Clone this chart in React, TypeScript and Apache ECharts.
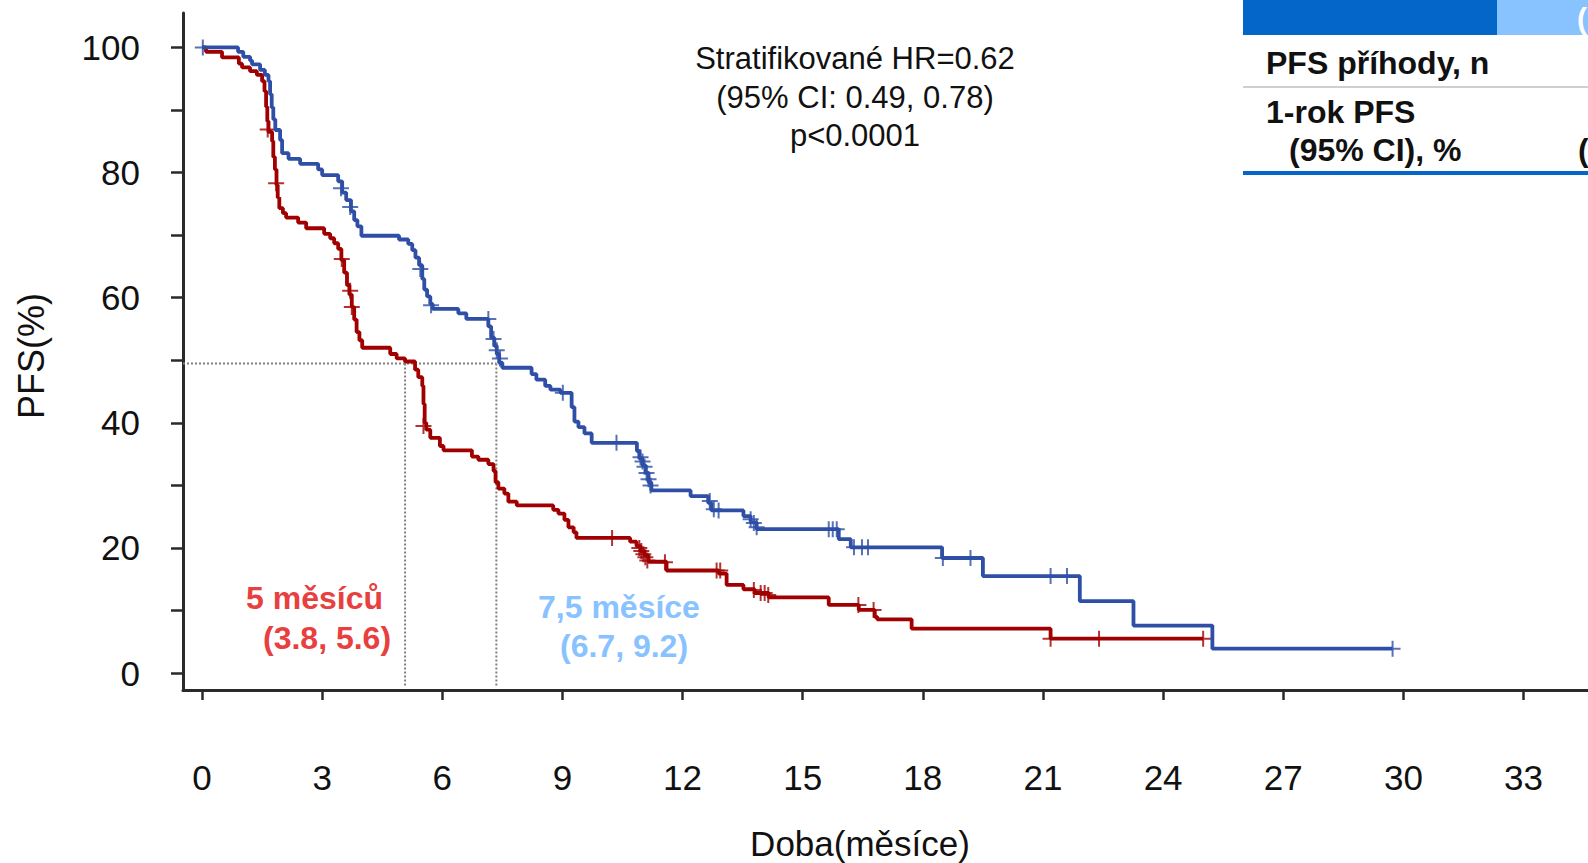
import React, { useEffect, useRef } from "react";
import * as echarts from "echarts";

// Axis ticks / labels
const xTickValues = [0, 3, 6, 9, 12, 15, 18, 21, 24, 27, 30, 33];
const yTickValues = [0, 10, 20, 30, 40, 50, 60, 70, 80, 90, 100];
const yLabelValues = [0, 20, 40, 60, 80, 100];

// Kaplan-Meier steps: [month, PFS % from that month on]
const blueSteps: [number, number][] = [
  [0, 100], [0.9, 99.3], [1.03, 98.5], [1.2, 97.9], [1.25, 97.3], [1.45, 96.4],
  [1.57, 95.6], [1.66, 94.6], [1.7, 92.5], [1.74, 90.4], [1.78, 88.5], [1.83, 86.8],
  [1.95, 85.2], [2.0, 83.1], [2.16, 82.2], [2.45, 81.4], [2.9, 80.5], [3.0, 79.6],
  [3.4, 78.6], [3.5, 76.8], [3.6, 75.6], [3.72, 73.8], [3.8, 72.4], [3.88, 71.4],
  [3.98, 69.9], [4.92, 69.3], [5.15, 68.6], [5.25, 67.6], [5.33, 66.4], [5.42, 65.2],
  [5.5, 63.0], [5.55, 61.3], [5.62, 60.2], [5.7, 59.0], [5.76, 58.2], [6.4, 57.5],
  [6.6, 56.6], [7.15, 55.4], [7.22, 53.6], [7.3, 52.3], [7.36, 51.0], [7.42, 49.6],
  [7.5, 48.8], [8.23, 47.8], [8.35, 46.9], [8.57, 45.9], [8.7, 45.3], [8.95, 44.8],
  [9.23, 42.5], [9.3, 40.2], [9.4, 39.3], [9.55, 38.3], [9.73, 36.8], [10.86, 35.5],
  [10.92, 34.3], [11.0, 33.2], [11.08, 32.0], [11.15, 30.5], [11.22, 29.2], [12.2, 28.3],
  [12.64, 27.2], [12.72, 26.0], [13.52, 25.1], [13.7, 24.1], [13.85, 23.0], [15.9, 21.4],
  [16.2, 20.1], [18.48, 18.4], [19.5, 15.5], [21.92, 11.5], [23.26, 7.6], [25.23, 3.9],
  [29.73, 3.9],
];
const blueCensored: [number, number][] = [
  [0.02, 100], [3.47, 77.5], [3.7, 74.5], [5.45, 64.6], [5.72, 58.8], [7.15, 56.6],
  [7.28, 53.4], [7.36, 51.6], [7.44, 50.3], [9.01, 44.8], [10.35, 36.8], [10.95, 34.5],
  [11.0, 33.8], [11.05, 33.0], [11.1, 32.0], [11.15, 31.0], [11.2, 30.0], [12.68, 27.5],
  [12.78, 26.2], [12.9, 26.0], [13.7, 24.6], [13.78, 24.0], [13.85, 23.3], [15.65, 23.0],
  [15.75, 23.0], [15.85, 23.0], [16.28, 20.1], [16.48, 20.1], [16.63, 20.1], [18.5, 18.4],
  [19.19, 18.4], [21.19, 15.5], [21.6, 15.5], [29.73, 3.9],
];
const redSteps: [number, number][] = [
  [0, 100], [0.1, 99.3], [0.5, 98.4], [0.92, 97.4], [1.0, 96.8], [1.2, 96.2],
  [1.37, 95.6], [1.5, 94.6], [1.56, 93.0], [1.6, 90.5], [1.63, 88.2], [1.66, 86.5],
  [1.75, 85.0], [1.78, 82.5], [1.82, 80.5], [1.86, 78.0], [1.89, 76.0], [1.93, 74.3],
  [2.02, 73.5], [2.1, 72.8], [2.4, 72.0], [2.6, 71.1], [3.05, 70.2], [3.2, 69.5],
  [3.3, 68.7], [3.4, 67.8], [3.48, 66.0], [3.55, 64.0], [3.62, 62.0], [3.68, 60.5],
  [3.74, 58.5], [3.8, 56.5], [3.86, 54.5], [3.93, 53.2], [4.0, 52.0], [4.7, 51.0],
  [4.86, 50.3], [5.07, 49.8], [5.32, 48.5], [5.4, 47.3], [5.5, 45.9], [5.53, 43.0],
  [5.56, 40.0], [5.6, 38.9], [5.7, 37.6], [5.94, 36.3], [6.03, 35.6], [6.74, 34.6],
  [6.9, 34.1], [7.15, 33.4], [7.28, 32.3], [7.33, 30.5], [7.4, 29.5], [7.55, 28.7],
  [7.65, 27.4], [7.86, 26.8], [8.77, 26.1], [8.9, 25.5], [9.05, 24.5], [9.15, 23.3],
  [9.28, 22.5], [9.35, 21.6], [10.69, 21.0], [10.85, 20.3], [10.95, 19.5], [11.05, 18.8],
  [11.15, 17.8], [11.6, 16.4], [12.9, 15.9], [13.1, 14.1], [13.52, 13.4], [13.8, 12.8],
  [14.15, 12.1], [15.65, 10.9], [16.4, 10.1], [16.8, 9.0], [16.86, 8.6], [17.72, 7.1],
  [21.19, 5.5], [25.0, 5.5],
];
const redCensored: [number, number][] = [
  [1.64, 86.9], [1.85, 78.3], [3.49, 66.2], [3.7, 61.1], [3.74, 58.5], [5.53, 39.5],
  [10.24, 21.6], [10.92, 20.0], [10.97, 19.5], [11.02, 19.0], [11.07, 18.5], [11.12, 18.0],
  [11.56, 17.7], [12.85, 16.4], [12.94, 16.4], [13.78, 13.3], [13.95, 12.8], [14.05, 12.8],
  [14.14, 12.5], [16.39, 10.9], [16.77, 10.1], [21.19, 5.5], [22.4, 5.5], [25.0, 5.5],
];

// Medians (reference lines)
const medianTimes = [5.07, 7.35];
const medianLevel = 49.5;

const X_MIN = -0.475;
const X_MAX = 34.61;
const Y_MIN = -2.7;
const Y_MAX = 105.5;

const FONT = '"Liberation Sans", Arial, Helvetica, sans-serif';
const BLUE = "#2E4FA5";
const RED = "#A00000";
const PLUS = "path://M7,0H9V7H16V9H9V16H7V9H0V7H7Z";

export default function App() {
  const ref = useRef<HTMLDivElement>(null);
  useEffect(() => {
    document.body.style.margin = "0";
    const chart = echarts.init(ref.current!, null, { renderer: "svg" });
    const dotted = {
      type: "line",
      symbol: "none",
      silent: true,
      lineStyle: { color: "#808080", width: 2, type: "dotted" },
      z: 1,
    };
    chart.setOption({
      animation: false,
      backgroundColor: "#ffffff",
      textStyle: { fontFamily: FONT },
      grid: { left: 183, right: 0, top: 13, bottom: 173, containLabel: false },
      xAxis: {
        type: "value",
        min: X_MIN,
        max: X_MAX,
        splitLine: { show: false },
        axisLine: { show: true, onZero: false, lineStyle: { color: "#2a2a2a", width: 3 } },
        axisTick: {
          show: true,
          length: 10,
          customValues: xTickValues,
          lineStyle: { color: "#2a2a2a", width: 2.5 },
        },
        axisLabel: {
          customValues: xTickValues,
          margin: 70,
          fontSize: 35,
          color: "#111",
          fontFamily: FONT,
        },
      },
      yAxis: {
        type: "value",
        min: Y_MIN,
        max: Y_MAX,
        splitLine: { show: false },
        axisLine: { show: true, onZero: false, lineStyle: { color: "#2a2a2a", width: 3 } },
        axisTick: {
          show: true,
          length: 12,
          customValues: yTickValues,
          lineStyle: { color: "#2a2a2a", width: 2.5 },
        },
        axisLabel: {
          customValues: yLabelValues,
          margin: 43,
          fontSize: 35,
          color: "#111",
          fontFamily: FONT,
        },
      },
      series: [
        {
          ...dotted,
          data: [[X_MIN, medianLevel], [medianTimes[1], medianLevel]],
        },
        ...medianTimes.map((t) => ({
          ...dotted,
          data: [[t, medianLevel], [t, -2.2]],
        })),
        {
          type: "line",
          step: "end",
          symbol: "none",
          data: redSteps,
          lineStyle: { color: RED, width: 3.8 },
          z: 3,
        },
        {
          type: "scatter",
          symbol: PLUS,
          symbolSize: 16,
          data: redCensored,
          itemStyle: { color: RED },
          z: 4,
        },
        {
          type: "line",
          step: "end",
          symbol: "none",
          data: blueSteps,
          lineStyle: { color: BLUE, width: 3.8 },
          z: 5,
        },
        {
          type: "scatter",
          symbol: PLUS,
          symbolSize: 16,
          data: blueCensored,
          itemStyle: { color: BLUE },
          z: 6,
        },
      ],
      graphic: [
        // Axis titles
        {
          type: "text",
          x: 31,
          y: 356,
          rotation: Math.PI / 2,
          style: {
            text: "PFS(%)",
            fontSize: 36,
            fontFamily: FONT,
            fill: "#111",
            align: "center",
            verticalAlign: "middle",
          },
        },
        {
          type: "text",
          x: 860,
          y: 843,
          style: {
            text: "Doba(měsíce)",
            fontSize: 35,
            fontFamily: FONT,
            fill: "#111",
            align: "center",
            verticalAlign: "middle",
          },
        },
        // HR annotation
        ...[
          ["Stratifikované HR=0.62", 58],
          ["(95% CI: 0.49, 0.78)", 97],
          ["p<0.0001", 135],
        ].map(([t, y]) => ({
          type: "text",
          x: 855,
          y: y as number,
          style: {
            text: t as string,
            fontSize: 31,
            fontFamily: FONT,
            fill: "#111",
            align: "center",
            verticalAlign: "middle",
          },
        })),
        // Median labels
        ...[
          ["5 měsíců", 246, 598, "#E8403F"],
          ["(3.8, 5.6)", 263, 638, "#E8403F"],
          ["7,5 měsíce", 538, 607, "#88C2FF"],
          ["(6.7, 9.2)", 560, 646, "#88C2FF"],
        ].map(([t, x, y, c]) => ({
          type: "text",
          x: x as number,
          y: y as number,
          style: {
            text: t as string,
            fontSize: 32,
            fontWeight: "bold",
            fontFamily: FONT,
            fill: c as string,
            align: "left",
            verticalAlign: "middle",
          },
        })),
        // Table (top right)
        { type: "rect", shape: { x: 1243, y: 0, width: 254, height: 35 }, style: { fill: "#0566C9" } },
        { type: "rect", shape: { x: 1497, y: 0, width: 91, height: 35 }, style: { fill: "#88C2FF" } },
        {
          type: "text",
          x: 1577,
          y: 18,
          style: { text: "(", fontSize: 30, fontWeight: "bold", fontFamily: FONT, fill: "#fff", align: "left", verticalAlign: "middle" },
        },
        {
          type: "text",
          x: 1266,
          y: 63,
          style: { text: "PFS příhody, n", fontSize: 32, fontWeight: "bold", fontFamily: FONT, fill: "#111", align: "left", verticalAlign: "middle" },
        },
        { type: "line", shape: { x1: 1243, y1: 87, x2: 1588, y2: 87 }, style: { stroke: "#cfcfcf", lineWidth: 2 } },
        {
          type: "text",
          x: 1266,
          y: 112,
          style: { text: "1-rok PFS", fontSize: 32, fontWeight: "bold", fontFamily: FONT, fill: "#111", align: "left", verticalAlign: "middle" },
        },
        {
          type: "text",
          x: 1289,
          y: 150,
          style: { text: "(95% CI), %", fontSize: 32, fontWeight: "bold", fontFamily: FONT, fill: "#111", align: "left", verticalAlign: "middle" },
        },
        {
          type: "text",
          x: 1578,
          y: 150,
          style: { text: "(", fontSize: 32, fontWeight: "bold", fontFamily: FONT, fill: "#111", align: "left", verticalAlign: "middle" },
        },
        { type: "line", shape: { x1: 1243, y1: 173, x2: 1588, y2: 173 }, style: { stroke: "#0566C9", lineWidth: 4 } },
      ],
    });
    return () => chart.dispose();
  }, []);
  return <div ref={ref} style={{ width: 1588, height: 863 }} />;
}
